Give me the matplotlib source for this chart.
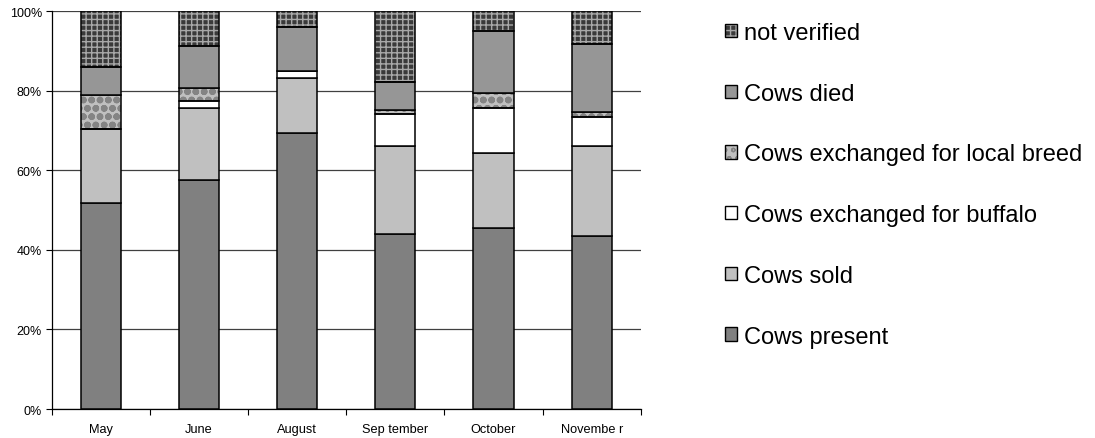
import matplotlib
matplotlib.use("Agg")
import matplotlib.pyplot as plt
from matplotlib.patches import Patch
from matplotlib.ticker import FixedLocator, PercentFormatter

plt.rcParams['font.family'] = ['Liberation Sans', 'DejaVu Sans']
plt.rcParams['hatch.linewidth'] = 1.0

months = ["May", "June", "August", "Sep tember", "October", "Novembe r"]

# percentages, stacked bottom -> top
present = [51.8, 57.6, 69.4, 44.1, 45.5, 43.6]
sold = [18.6, 18.0, 13.9, 22.1, 18.8, 22.6]
buffalo = [0.0, 1.9, 1.8, 8.1, 11.4, 7.1]
local_breed = [8.6, 3.3, 0.0, 0.9, 3.8, 1.4]
died = [7.0, 10.4, 10.9, 7.1, 15.6, 17.1]
not_verified = [14.0, 8.8, 4.0, 17.7, 4.9, 8.2]

# label, values, face colour, hatch colour, hatch, hatch linewidth
series = [
  ("Cows present", present, "#808080", None, None, None),
  ("Cows sold", sold, "#c0c0c0", None, None, None),
  ("Cows exchanged for buffalo", buffalo, "#ffffff", None, None, None),
  ("Cows exchanged for local breed", local_breed, "#c0c0c0", "#848484", "oo", 2.4),
  ("Cows died", died, "#969696", None, None, None),
  ("not verified", not_verified, "#3a3a3a", "#a8a8a8", "+++", 1.0),
]

fig = plt.figure(figsize=(10.95, 4.39), dpi=100)
ax = fig.add_axes([0.0472, 0.066, 0.538, 0.906])

x = list(range(len(months)))
width = 0.41
bottom = [0.0] * len(months)
handles = []
for label, vals, face, hcolor, hatch, hlw in series:
  if hatch:
    with plt.rc_context({'hatch.linewidth': hlw}):
      bars = ax.bar(x, vals, width, bottom=bottom, color=face, edgecolor=hcolor,
                    hatch=hatch, linewidth=0, zorder=2)
      hp = Patch(facecolor=face, edgecolor=hcolor, hatch=hatch, linewidth=0)
    for b in list(bars) + [hp]:
      if hasattr(b, "set_hatch_linewidth"):
        b.set_hatch_linewidth(hlw)
    ax.bar(x, vals, width, bottom=bottom, fill=False, edgecolor="black",
           linewidth=1.1, zorder=3)
    h = (hp, Patch(fill=False, edgecolor="black", linewidth=1.0))
  else:
    ax.bar(x, vals, width, bottom=bottom, color=face, edgecolor="black",
           linewidth=1.1, zorder=3)
    h = Patch(facecolor=face, edgecolor="black", linewidth=1.0)
  handles.append((h, label))
  bottom = [b + v for b, v in zip(bottom, vals)]

ax.set_xlim(-0.5, len(months) - 0.5)
ax.set_ylim(0, 100)
ax.yaxis.set_major_locator(FixedLocator([0, 20, 40, 60, 80, 100]))
ax.yaxis.set_major_formatter(PercentFormatter(decimals=0))
ax.grid(axis="y", color="#404040", linewidth=0.9, zorder=0)
ax.set_axisbelow(True)

ax.set_xticks(x)
ax.set_xticklabels(months, fontsize=9.2)
ax.set_xticks([i - 0.5 for i in range(len(months) + 1)], minor=True)
ax.tick_params(axis="x", which="major", length=0, pad=10)
ax.tick_params(axis="x", which="minor", length=4, width=0.8, direction="out")
ax.tick_params(axis="y", length=4, width=0.8, labelsize=9, pad=3)

for side in ["top", "right"]:
  ax.spines[side].set_visible(False)
ax.spines["left"].set_linewidth(0.9)
ax.spines["bottom"].set_linewidth(0.9)

handles = handles[::-1]
fig.legend([h for h, _ in handles], [l for _, l in handles],
           loc="center left", bbox_to_anchor=(0.662, 0.577), frameon=False,
           fontsize=17, handlelength=0.5, handleheight=0.5,
           handletextpad=0.3, labelspacing=1.64, borderpad=0, borderaxespad=0)

fig.savefig("out.png", dpi=100)
